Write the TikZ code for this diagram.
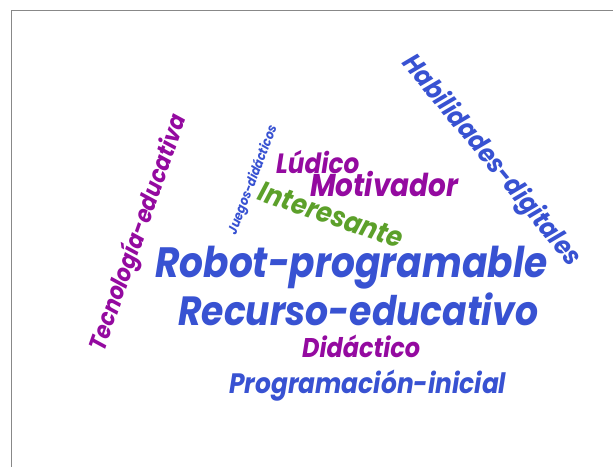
\documentclass[tikz,border=0pt]{standalone}
\usepackage{fontspec}
\setmainfont{Poppins}
\usepackage{graphicx}
\definecolor{wblue}{RGB}{56,82,210}
\definecolor{wpurple}{RGB}{148,10,160}
\definecolor{wgreen}{RGB}{92,160,42}
\definecolor{framegray}{RGB}{136,136,136}
\tikzset{
  word/.style={inner sep=0pt, font=\bfseries\itshape},
}
\newcommand{\wfit}[2]{\scalebox{1}[1.13]{\resizebox{#1}{!}{#2}}}
\begin{document}
\begin{tikzpicture}[x=1pt,y=-1pt]
\useasboundingbox (0,0) rectangle (613,466);
\fill[white] (0,0) rectangle (613,466);
\draw[framegray, line width=1.5pt] (11.5,467) coordinate (fa) -- (11.5,10.5) coordinate (fb) -- (614,10.5) coordinate (fc);
\node[word, text=wblue, anchor=base west] (robot) at (155,277) {\wfit{392pt}{Robot-programable}};
\node[word, text=wblue, anchor=base west] (recurso) at (178,325) {\wfit{360pt}{Recurso-educativo}};
\node[word, text=wpurple, anchor=base west] (didactico) at (302,357) {\wfit{118pt}{Didáctico}};
\node[word, text=wblue, anchor=base west] (prog) at (229,393) {\wfit{277pt}{Programación-inicial}};
\node[word, text=wpurple, anchor=base west] (ludico) at (276,173) {\wfit{83pt}{Lúdico}};
\node[word, text=wpurple, anchor=base west] (motiv) at (310,196) {\wfit{148pt}{Motivador}};
\node[word, text=wgreen, rotate=-19] (inter) at (331,215) {\wfit{150pt}{Interesante}};
\node[word, text=wblue, rotate=69] (juegos) at (253,180) {\wfit{115pt}{Juegos-didácticos}};
\node[word, text=wpurple, rotate=70.6] (tecno) at (139,233) {\wfit{248pt}{Tecnología-educativa}};
\node[word, text=wblue, rotate=-50.5] (habil) at (491,161) {\wfit{264pt}{Habilidades-digitales}};
\end{tikzpicture}
\end{document}
